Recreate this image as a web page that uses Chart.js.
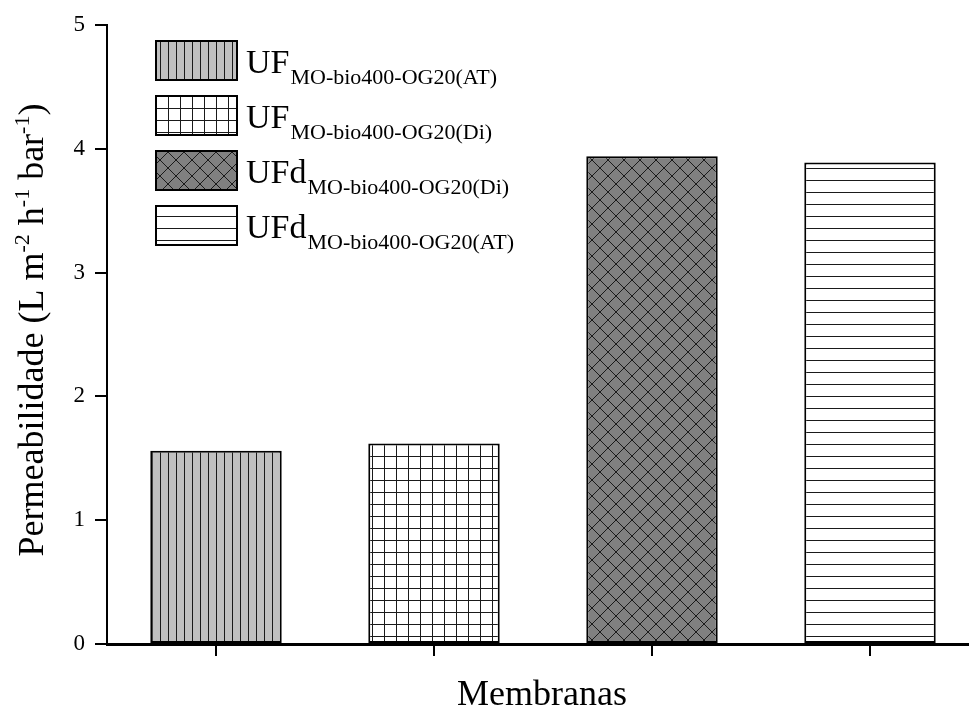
<!DOCTYPE html>
<html>
<head>
<meta charset="utf-8">
<script src="https://cdn.jsdelivr.net/npm/chart.js@4"></script>
<style>
  html, body { margin: 0; padding: 0; overflow: hidden; background: #fff; }
  canvas { display: block; }
</style>
</head>
<body>
<canvas id="chart" width="979" height="707"></canvas>
<script>
// Membrane names (main part + subscript) and measured permeability
const membraneNames = ['UF', 'UF', 'UFd', 'UFd'];
const membraneSubs = ['MO-bio400-OG20(AT)', 'MO-bio400-OG20(Di)', 'MO-bio400-OG20(Di)', 'MO-bio400-OG20(AT)'];
const permeability = [1.56, 1.62, 3.94, 3.89];
const yTickValues = [0, 1, 2, 3, 4, 5];
const xAxisTitle = 'Membranas';
// Y title pieces: [text, isSuperscript]
const yAxisTitleParts = [
  ['Permeabilidade (L m', false], ['-2', true], [' h', false], ['-1', true],
  [' bar', false], ['-1', true], [')', false]
];

const SERIF = '"Liberation Serif", "Times New Roman", serif';
const canvas = document.getElementById('chart');
const ctx = canvas.getContext('2d');

// Hatch fills for each membrane
function makePattern(size, bg, draw) {
  const c = document.createElement('canvas');
  c.width = size; c.height = size;
  const g = c.getContext('2d');
  g.fillStyle = bg;
  g.fillRect(0, 0, size, size);
  g.strokeStyle = '#1a1a1a';
  g.lineWidth = 1;
  g.beginPath();
  draw(g, size);
  g.stroke();
  return ctx.createPattern(c, 'repeat');
}
const fills = [
  makePattern(8, '#c0c0c0', (g, s) => { g.moveTo(0.5, 0); g.lineTo(0.5, s); }),
  makePattern(12, '#ffffff', (g, s) => { g.moveTo(0.5, 0); g.lineTo(0.5, s); g.moveTo(0, 0.5); g.lineTo(s, 0.5); }),
  makePattern(16, '#808080', (g, s) => { g.moveTo(0, 0); g.lineTo(s, s); g.moveTo(s, 0); g.lineTo(0, s); }),
  makePattern(12, '#ffffff', (g, s) => { g.moveTo(0, 0.5); g.lineTo(s, 0.5); })
];

// Legend with subscripted names, upper-left of the plot
const hatchLegend = {
  id: 'hatchLegend',
  afterDraw(chart) {
    const c = chart.ctx;
    c.save();
    membraneNames.forEach((name, i) => {
      const bx = 156, by = 41 + 55 * i, bw = 81, bh = 39;
      c.fillStyle = fills[i];
      c.fillRect(bx, by, bw, bh);
      c.strokeStyle = '#000';
      c.lineWidth = 2;
      c.strokeRect(bx, by, bw, bh);
      c.fillStyle = '#000';
      c.textAlign = 'left';
      c.textBaseline = 'alphabetic';
      c.font = '34px ' + SERIF;
      const base = by + 31.5;
      c.fillText(name, 246, base);
      const w = c.measureText(name).width;
      c.font = '22px ' + SERIF;
      c.fillText(membraneSubs[i], 246 + w + 1, base + 11);
    });
    c.restore();
  }
};

// Axis titles (the y title carries superscripts)
const axisTitles = {
  id: 'axisTitles',
  afterDraw(chart) {
    const c = chart.ctx;
    const a = chart.chartArea;
    c.save();
    c.fillStyle = '#000';
    c.textBaseline = 'alphabetic';
    c.textAlign = 'center';
    c.font = '36px ' + SERIF;
    c.fillText(xAxisTitle, (a.left + a.right) / 2 - 1, 705);

    const mainFont = '36px ' + SERIF, supFont = '22px ' + SERIF;
    let total = 0;
    const widths = yAxisTitleParts.map(([t, sup]) => {
      c.font = sup ? supFont : mainFont;
      const w = c.measureText(t).width;
      total += w;
      return w;
    });
    const cy = 330;
    c.translate(43, cy + total / 2);
    c.rotate(-Math.PI / 2);
    c.textAlign = 'left';
    let x = 0;
    yAxisTitleParts.forEach(([t, sup], i) => {
      c.font = sup ? supFont : mainFont;
      c.fillText(t, x, sup ? -14 : 0);
      x += widths[i];
    });
    c.restore();
  }
};

new Chart(ctx, {
  type: 'bar',
  data: {
    labels: membraneNames.map((n, i) => n + ' ' + membraneSubs[i]),
    datasets: [{
      data: permeability,
      backgroundColor: fills,
      borderColor: '#000',
      borderWidth: 2,
      borderSkipped: false,
      barPercentage: 0.603,
      categoryPercentage: 1
    }]
  },
  options: {
    responsive: false,
    animation: false,
    devicePixelRatio: 1,
    layout: { padding: { left: 0, right: 0, top: 25, bottom: 0 } },
    plugins: { legend: { display: false }, tooltip: { enabled: false } },
    scales: {
      x: {
        offset: true,
        grid: { display: true, drawOnChartArea: false, drawTicks: true, tickLength: 12, offset: false, color: '#000', lineWidth: 2 },
        border: { display: true, color: '#000', width: 3 },
        ticks: { display: false },
        afterFit(s) { s.height = 63; }
      },
      y: {
        min: 0, max: 5,
        afterBuildTicks(s) { s.ticks = yTickValues.map(v => ({ value: v })); },
        ticks: { color: '#000', font: { family: SERIF, size: 23 }, padding: 10 },
        grid: { drawOnChartArea: false, drawTicks: true, tickLength: 12, color: '#000', lineWidth: 2 },
        border: { display: true, color: '#000', width: 2 },
        afterFit(s) { s.width = 107; }
      }
    }
  },
  plugins: [hatchLegend, axisTitles]
});
</script>
</body>
</html>
